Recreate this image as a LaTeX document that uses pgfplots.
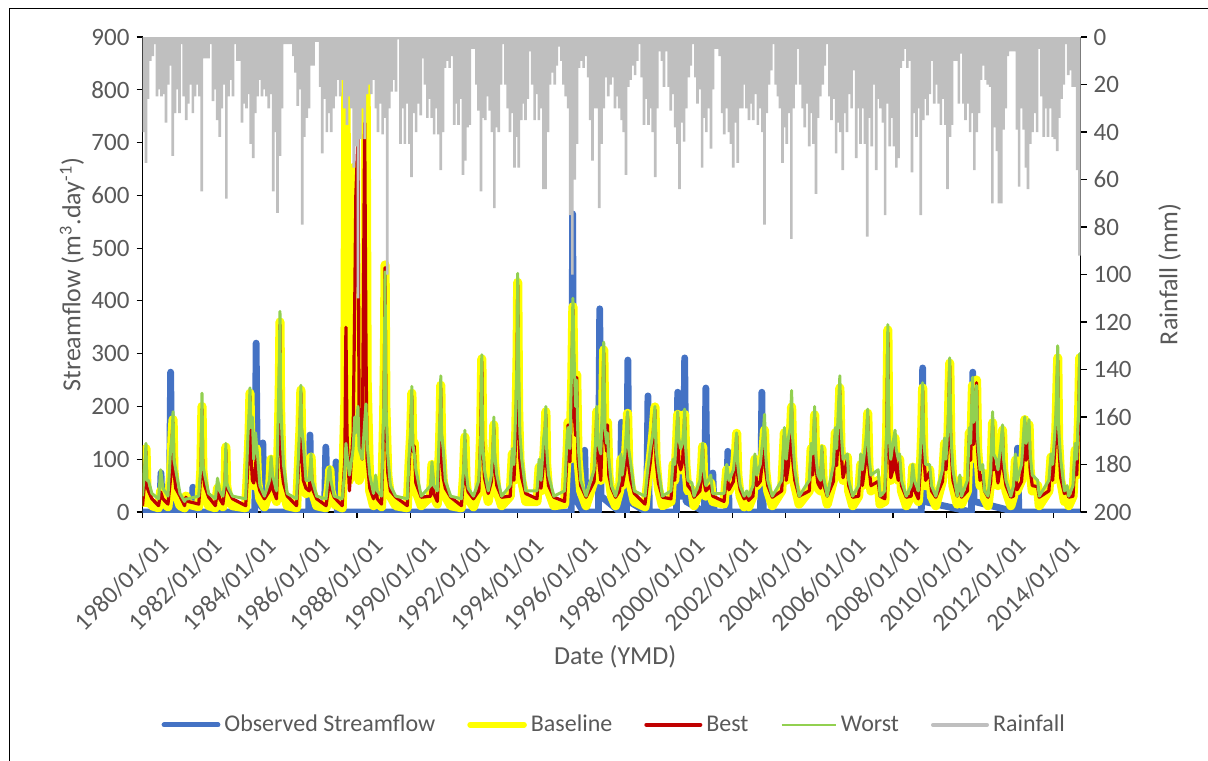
\documentclass[border=0pt]{standalone}
\usepackage{pgfplots}
\pgfplotsset{compat=1.18}
\usepackage{pgfplotstable}
\usepackage{fontspec}
\setmainfont{Carlito}
\definecolor{obs}{HTML}{4472C4}
\definecolor{base}{HTML}{FFFF00}
\definecolor{best}{HTML}{C00000}
\definecolor{worst}{HTML}{92D050}
\definecolor{rain}{HTML}{BFBFBF}
\definecolor{txt}{HTML}{595959}

\pgfplotstableread{
x b r w
1980.00 10 12 30
1980.06 48 45 70
1980.10 90 85 100
1980.13 120 115 130
1980.16 50 48 60
1980.22 28 40 60
1980.35 12 25 35
1980.60 8 12 25
1980.68 40 38 80
1980.76 20 25 45
1980.95 10 15 30
1981.05 70 65 120
1981.11 150 145 150
1981.14 175 170 190
1981.17 80 78 100
1981.24 36 45 80
1981.40 12 30 35
1981.57 8 12 20
1981.62 30 28 25
1981.70 15 20 25
1982.10 10 15 30
1982.18 80 75 90
1982.22 200 195 225
1982.25 80 78 90
1982.32 40 50 70
1982.47 12 28 35
1982.72 8 12 25
1982.80 45 43 64
1982.88 20 25 40
1983.00 10 15 30
1983.08 50 48 60
1983.11 123 118 130
1983.14 50 48 55
1983.21 28 40 45
1983.36 12 25 30
1983.85 8 12 25
1983.93 90 85 140
1983.98 150 145 190
1984.01 225 220 235
1984.04 120 115 160
1984.10 60 60 180
1984.15 50 55 100
1984.22 90 85 150
1984.25 120 115 130
1984.29 60 60 110
1984.38 25 40 50
1984.55 10 25 30
1984.74 40 40 60
1984.80 100 95 105
1984.85 45 45 70
1985.00 20 25 40
1985.07 140 135 200
1985.11 250 245 300
1985.13 360 355 380
1985.15 200 195 220
1985.20 80 80 150
1985.26 40 55 90
1985.40 12 30 35
1985.75 8 12 25
1985.83 100 95 120
1985.88 160 155 180
1985.91 231 226 240
1985.94 120 115 160
1986.00 60 60 130
1986.10 35 45 60
1986.22 40 40 60
1986.29 104 100 110
1986.33 40 45 60
1986.50 12 25 30
1986.85 8 12 25
1986.95 50 48 80
1986.99 80 76 85
1987.03 40 45 60
1987.15 15 28 30
1987.45 8 12 25
1987.55 200 100 80
1987.59 834 350 130
1987.63 300 150 110
1987.72 60 40 70
1987.86 200 150 120
1987.92 654 400 180
1987.96 250 600 150
1988.04 100 710 200
1988.08 60 200 120
1988.20 80 100 100
1988.29 300 737 170
1988.34 842 300 205
1988.38 250 100 130
1988.48 40 45 70
1988.62 12 25 35
1988.70 60 55 70
1988.76 20 25 40
1988.92 10 15 30
1989.00 180 175 190
1989.03 300 290 300
1989.05 468 463 455
1989.08 200 195 210
1989.15 70 75 110
1989.25 30 40 50
1989.45 12 28 30
1989.88 8 12 25
1989.95 93 90 110
1990.01 150 145 160
1990.05 225 220 238
1990.08 120 115 130
1990.14 131 125 110
1990.20 40 55 80
1990.40 12 28 30
1990.75 30 30 50
1990.80 90 86 95
1990.87 30 35 50
1991.00 15 20 40
1991.08 120 115 160
1991.11 180 175 190
1991.13 240 235 258
1991.16 120 115 150
1991.22 60 65 120
1991.30 30 45 60
1991.50 12 28 30
1991.90 8 12 25
1991.98 70 68 80
1992.03 142 137 155
1992.07 60 58 80
1992.15 25 38 45
1992.35 10 25 30
1992.55 40 40 60
1992.62 150 145 140
1992.66 290 285 298
1992.69 140 135 130
1992.76 60 65 80
1992.90 20 35 40
1993.02 60 58 70
1993.08 120 115 130
1993.11 165 160 180
1993.14 90 88 110
1993.22 40 50 70
1993.40 12 28 30
1993.72 30 30 50
1993.80 110 105 120
1993.86 60 60 90
1993.93 150 145 200
1993.98 300 295 300
1994.00 435 430 452
1994.03 200 195 300
1994.08 100 100 150
1994.15 60 65 100
1994.30 20 35 40
1994.72 20 25 40
1994.80 85 82 100
1994.87 40 45 60
1994.97 100 95 140
1995.02 150 145 160
1995.05 190 185 200
1995.08 90 88 120
1995.15 40 50 70
1995.35 12 28 30
1995.75 15 20 40
1995.85 120 115 150
1995.88 170 165 160
1995.95 100 95 120
1996.02 250 245 300
1996.06 389 384 405
1996.10 200 195 300
1996.16 150 145 200
1996.20 260 255 250
1996.25 100 100 130
1996.35 40 50 60
1996.55 12 28 30
1996.85 60 58 80
1996.92 140 135 150
1996.95 190 185 200
1997.00 110 108 130
1997.10 60 60 110
1997.17 180 175 220
1997.21 307 302 322
1997.25 150 145 160
1997.32 120 115 130
1997.35 170 165 150
1997.40 70 70 100
1997.50 30 45 50
1997.65 12 28 30
1997.80 40 40 60
1997.85 100 95 110
1997.90 50 50 70
1998.00 80 78 110
1998.06 140 135 160
1998.10 187 182 190
1998.14 90 88 120
1998.22 50 60 90
1998.35 20 35 40
1998.75 10 15 30
1998.85 60 58 80
1998.95 100 95 120
1999.05 150 145 150
1999.12 199 194 200
1999.16 100 98 120
1999.25 45 55 80
1999.40 12 28 30
1999.72 20 25 40
1999.80 90 86 100
1999.86 60 60 90
1999.93 130 125 150
1999.97 185 180 190
2000.01 100 98 140
2000.08 80 80 120
2000.15 100 95 130
2000.20 150 145 160
2000.23 185 180 195
2000.27 90 90 120
2000.35 40 50 60
2000.50 42 40 55
2000.58 12 28 30
2000.80 40 40 60
2000.87 90 86 110
2000.90 124 120 130
2000.94 60 60 80
2001.02 30 40 50
2001.20 55 50 70
2001.28 20 30 35
2001.70 15 20 35
2001.80 80 76 90
2001.88 40 42 60
2002.05 60 58 80
2002.13 110 105 120
2002.17 149 144 150
2002.21 70 70 90
2002.30 30 42 50
2002.45 10 25 30
2002.55 30 30 40
2002.62 10 22 30
2002.78 30 30 50
2002.85 100 95 110
2002.92 50 50 70
2003.05 60 58 90
2003.15 110 105 140
2003.21 155 150 185
2003.25 80 80 110
2003.33 40 50 60
2003.50 12 28 30
2003.85 40 40 60
2003.95 150 145 160
2004.02 60 60 100
2004.10 90 88 140
2004.17 140 135 160
2004.22 199 194 230
2004.26 100 98 140
2004.34 50 60 80
2004.50 15 30 30
2004.88 40 40 60
2004.95 120 115 130
2005.01 70 70 110
2005.05 140 135 160
2005.08 184 179 200
2005.12 90 88 110
2005.20 45 55 70
2005.30 40 45 60
2005.35 120 115 125
2005.40 50 55 70
2005.55 15 30 30
2005.78 60 58 90
2005.85 150 145 160
2005.90 90 88 120
2005.97 160 155 200
2006.02 235 230 258
2006.06 120 118 160
2006.14 60 65 100
2006.30 104 100 110
2006.35 40 50 60
2006.50 12 28 30
2006.72 30 30 50
2006.80 90 86 110
2006.86 50 50 80
2006.98 100 95 130
2007.03 150 145 160
2007.06 187 182 195
2007.10 90 88 110
2007.18 40 50 70
2007.45 60 58 80
2007.52 15 30 30
2007.70 20 25 40
2007.77 150 145 160
2007.81 345 340 355
2007.84 150 145 160
2007.92 60 65 100
2008.00 80 80 130
2008.08 140 135 155
2008.12 80 80 120
2008.20 60 60 100
2008.25 100 95 110
2008.32 40 50 60
2008.50 12 28 30
2008.68 30 30 50
2008.74 85 80 90
2008.80 40 42 60
2008.95 20 25 40
2009.04 100 95 130
2009.08 160 155 180
2009.11 235 230 245
2009.15 110 108 140
2009.22 50 60 90
2009.37 80 76 90
2009.44 30 40 50
2009.60 12 28 30
2009.85 60 58 80
2009.93 130 125 140
2009.98 80 80 100
2010.06 150 145 170
2010.12 282 277 292
2010.16 130 128 150
2010.24 50 60 80
2010.40 15 30 30
2010.50 60 58 70
2010.56 15 28 30
2010.78 40 40 60
2010.85 150 145 160
2010.90 100 98 130
2010.97 240 235 255
2011.01 130 128 170
2011.06 150 145 180
2011.12 250 245 240
2011.16 120 118 140
2011.25 50 60 80
2011.35 74 70 90
2011.42 25 40 40
2011.55 12 28 30
2011.65 60 58 80
2011.72 169 164 190
2011.76 80 80 110
2011.85 90 86 100
2011.92 50 55 80
2012.03 100 95 130
2012.09 155 150 165
2012.13 80 80 100
2012.22 40 50 60
2012.40 12 28 30
2012.50 30 30 50
2012.57 98 94 110
2012.63 40 42 60
2012.80 60 58 90
2012.88 120 115 150
2012.92 175 170 180
2012.97 100 98 130
2013.03 120 115 150
2013.08 165 160 175
2013.12 80 80 110
2013.20 40 50 70
2013.40 50 48 60
2013.46 12 28 30
2013.82 40 40 60
2013.90 104 100 110
2013.96 60 60 90
2014.08 150 145 180
2014.15 292 287 315
2014.18 140 138 160
2014.26 60 65 100
2014.40 20 35 40
2014.50 40 40 50
2014.56 12 28 30
2014.72 30 30 50
2014.80 117 112 130
2014.86 70 70 100
2014.93 180 175 200
2014.97 292 287 300
2015.00 150 145 170
}\flow

\pgfplotsset{
  tlab/.style={font=\fontsize{12.5}{15}\selectfont, text=txt},
}

\begin{document}
\begin{tikzpicture}
\useasboundingbox (-71.25pt,-124pt) rectangle (532.75pt,256pt);
\draw[line width=0.6pt] (-66.5pt,-140pt) -- (-66.5pt,251.75pt) -- (545pt,251.75pt);
\begin{axis}[
  scale only axis, width=469pt, height=237.5pt,
  xmin=1980, xmax=2015, ymin=0, ymax=900,
  axis x line*=bottom, axis y line*=left,
  axis line style={black, line width=0.6pt, -},
  tick style={black, line width=0.6pt},
  tick align=outside, major tick length=3pt,
  xtick={1980,1982,...,2014},
  xticklabels={1980/01/01,1982/01/01,1984/01/01,1986/01/01,1988/01/01,1990/01/01,1992/01/01,1994/01/01,1996/01/01,1998/01/01,2000/01/01,2002/01/01,2004/01/01,2006/01/01,2008/01/01,2010/01/01,2012/01/01,2014/01/01},
  ytick={0,100,...,900},
  /pgf/number format/assume math mode=true,
  tick label style={tlab},
  x tick label style={rotate=45, anchor=north east, xshift=3pt, yshift=-8pt},
  xlabel={Date (YMD)},
  xlabel style={at={(axis description cs:0.504,-0.305)}, anchor=center, font=\fontsize{13}{15}\selectfont, text=txt},
  ylabel={Streamflow (m\textsuperscript{3}.day\textsuperscript{-1})},
  ylabel style={at={(axis description cs:-0.075,0.5)}, anchor=center, font=\fontsize{13}{15}\selectfont, text=txt},
  line join=round,
]
\addplot[color=obs, line width=3.4pt, line join=round] coordinates {
(1980.00,0)(1980.64,0)(1980.69,74)(1980.74,0)(1981.00,0)(1981.05,265)(1981.10,30)(1981.20,0)(1981.65,0)(1981.70,28)(1981.75,0)(1981.84,0)(1981.88,47)(1981.93,0)(1984.19,0)(1984.24,320)(1984.29,50)(1984.44,10)(1984.49,131)(1984.54,0)(1986.20,0)(1986.25,146)(1986.30,0)(1986.79,0)(1986.84,123)(1986.90,20)(1987.17,20)(1987.22,95)(1987.27,0)(1996.00,0)(1996.05,565)(1996.10,30)(1996.45,0)(1996.50,117)(1996.55,0)(1997.01,0)(1997.06,385)(1997.11,30)(1997.82,0)(1997.87,170)(1997.92,0)(1998.06,0)(1998.11,288)(1998.16,20)(1998.81,0)(1998.86,220)(1998.91,0)(1999.92,0)(1999.97,227)(2000.02,30)(2000.18,30)(2000.23,292)(2000.28,20)(2000.97,0)(2001.02,235)(2001.07,0)(2001.23,0)(2001.28,74)(2001.33,0)(2001.79,0)(2001.84,115)(2001.89,0)(2002.50,0)(2002.55,29)(2002.60,0)(2003.06,0)(2003.11,227)(2003.16,0)(2009.06,0)(2009.11,273)(2009.16,20)(2010.93,0)(2010.98,265)(2011.03,20)(2012.60,0)(2012.65,121)(2012.70,0)(2015.00,0)
};
\addplot[color=base, line width=4.6pt, line join=round] table[x=x, y=b] {\flow};
\addplot[color=best, line width=1.6pt, line join=round] table[x=x, y=r] {\flow};
\addplot[color=worst, line width=1.5pt, line join=round] table[x=x, y=w] {\flow};
\end{axis}
\begin{axis}[
  scale only axis, width=469pt, height=237.5pt,
  xmin=1980, xmax=2015, ymin=0, ymax=200, y dir=reverse,
  axis x line=none, axis y line*=right,
  axis line style={black, line width=0.6pt, -},
  tick style={black, line width=0.6pt},
  tick align=outside, major tick length=3pt,
  ytick={0,20,...,200},
  /pgf/number format/assume math mode=true,
  tick label style={tlab},
  ylabel={Rainfall (mm)},
  ylabel style={at={(axis description cs:1.095,0.5)}, anchor=center, rotate=0, font=\fontsize{13}{15}\selectfont, text=txt},
  legend columns=5,
  legend style={at={(0.504,-0.448)}, anchor=center, draw=none, fill=none,
    font=\fontsize{12}{14}\selectfont, text=txt,
    /tikz/every even column/.append style={column sep=14pt}},
  legend image code/.code={\draw[#1] (0pt,0pt) -- (27pt,0pt);},
]
\addlegendimage{color=obs, line width=2.4pt, line cap=round}
\addlegendentry{Observed Streamflow}
\addlegendimage{color=base, line width=2.8pt, line cap=round}
\addlegendentry{Baseline}
\addlegendimage{color=best, line width=2pt, line cap=round}
\addlegendentry{Best}
\addlegendimage{color=worst, line width=1.2pt}
\addlegendentry{Worst}
\addlegendimage{color=rain, line width=2pt, line cap=round}
\addlegendentry{Rainfall}
\addplot[ybar, bar width=0.1, fill=rain, draw=none, forget plot] coordinates {
(1980.04,40)(1980.13,53)(1980.21,26)(1980.29,10)(1980.38,8)(1980.46,3)(1980.54,25)(1980.63,22)(1980.71,25)(1980.79,24)(1980.88,36)(1980.96,20)
(1981.04,12)(1981.13,50)(1981.21,32)(1981.29,22)(1981.38,32)(1981.46,3)(1981.54,25)(1981.63,35)(1981.71,28)(1981.79,20)(1981.88,32)(1981.96,25)
(1982.04,20)(1982.13,25)(1982.21,65)(1982.29,9)(1982.38,9)(1982.46,9)(1982.54,3)(1982.63,27)(1982.71,22)(1982.79,35)(1982.88,42)(1982.96,30)
(1983.04,20)(1983.13,68)(1983.21,25)(1983.29,18)(1983.38,25)(1983.46,3)(1983.54,10)(1983.63,10)(1983.71,36)(1983.79,28)(1983.88,30)(1983.96,24)
(1984.04,45)(1984.13,51)(1984.21,32)(1984.29,25)(1984.38,18)(1984.46,25)(1984.54,22)(1984.63,25)(1984.71,30)(1984.79,24)(1984.88,65)(1984.96,40)
(1985.04,74)(1985.13,50)(1985.21,30)(1985.29,3)(1985.38,3)(1985.46,3)(1985.54,3)(1985.63,8)(1985.71,15)(1985.79,29)(1985.88,22)(1985.96,79)
(1986.04,42)(1986.13,34)(1986.21,30)(1986.29,12)(1986.38,12)(1986.46,2)(1986.54,2)(1986.63,21)(1986.71,49)(1986.79,26)(1986.88,40)(1986.96,32)
(1987.04,40)(1987.13,30)(1987.21,25)(1987.29,18)(1987.38,25)(1987.46,18)(1987.54,30)(1987.63,37)(1987.71,25)(1987.79,30)(1987.88,55)(1987.96,46)
(1988.04,110)(1988.13,43)(1988.21,30)(1988.29,43)(1988.38,24)(1988.46,20)(1988.54,24)(1988.63,18)(1988.71,30)(1988.79,40)(1988.88,28)(1988.96,41)
(1989.04,34)(1989.13,100)(1989.21,30)(1989.29,23)(1989.38,18)(1989.46,23)(1989.54,1)(1989.63,45)(1989.71,30)(1989.79,45)(1989.88,28)(1989.96,45)
(1990.04,59)(1990.13,32)(1990.21,40)(1990.29,28)(1990.38,33)(1990.46,9)(1990.54,20)(1990.63,34)(1990.71,26)(1990.79,34)(1990.88,41)(1990.96,30)
(1991.04,41)(1991.13,56)(1991.21,40)(1991.29,13)(1991.38,10)(1991.46,13)(1991.54,8)(1991.63,37)(1991.71,28)(1991.79,37)(1991.88,26)(1991.96,58)
(1992.04,52)(1992.13,38)(1992.21,37)(1992.29,5)(1992.38,5)(1992.46,20)(1992.54,31)(1992.63,65)(1992.71,34)(1992.79,35)(1992.88,25)(1992.96,31)
(1993.04,40)(1993.13,72)(1993.21,38)(1993.29,40)(1993.38,20)(1993.46,3)(1993.54,20)(1993.63,30)(1993.71,40)(1993.79,32)(1993.88,55)(1993.96,42)
(1994.04,55)(1994.13,35)(1994.21,28)(1994.29,35)(1994.38,26)(1994.46,6)(1994.54,20)(1994.63,35)(1994.71,24)(1994.79,35)(1994.88,30)(1994.96,64)
(1995.04,64)(1995.13,40)(1995.21,20)(1995.29,15)(1995.38,20)(1995.46,12)(1995.54,4)(1995.63,10)(1995.71,20)(1995.79,25)(1995.88,30)(1995.96,75)
(1996.04,100)(1996.13,60)(1996.21,45)(1996.29,13)(1996.38,10)(1996.46,13)(1996.54,8)(1996.63,17)(1996.71,35)(1996.79,52)(1996.88,30)(1996.96,30)
(1997.04,72)(1997.13,45)(1997.21,30)(1997.29,17)(1997.38,25)(1997.46,20)(1997.54,17)(1997.63,30)(1997.71,25)(1997.79,30)(1997.88,35)(1997.96,40)
(1998.04,58)(1998.13,21)(1998.21,18)(1998.29,12)(1998.38,16)(1998.46,10)(1998.54,3)(1998.63,17)(1998.71,37)(1998.79,26)(1998.88,37)(1998.96,30)
(1999.04,40)(1999.13,59)(1999.21,30)(1999.29,6)(1999.38,10)(1999.46,21)(1999.54,6)(1999.63,21)(1999.71,31)(1999.79,24)(1999.88,38)(1999.96,45)
(2000.04,64)(2000.13,36)(2000.21,44)(2000.29,30)(2000.38,17)(2000.46,12)(2000.54,3)(2000.63,17)(2000.71,28)(2000.79,22)(2000.88,55)(2000.96,34)
(2001.04,40)(2001.13,30)(2001.21,47)(2001.29,22)(2001.38,5)(2001.46,5)(2001.54,8)(2001.63,32)(2001.71,41)(2001.79,30)(2001.88,40)(2001.96,45)
(2002.04,55)(2002.13,36)(2002.21,53)(2002.29,30)(2002.38,30)(2002.46,20)(2002.54,30)(2002.63,35)(2002.71,28)(2002.79,35)(2002.88,24)(2002.96,37)
(2003.04,30)(2003.13,40)(2003.21,79)(2003.29,32)(2003.38,20)(2003.46,14)(2003.54,3)(2003.63,20)(2003.71,25)(2003.79,30)(2003.88,53)(2003.96,38)
(2004.04,45)(2004.13,32)(2004.21,85)(2004.29,30)(2004.38,20)(2004.46,5)(2004.54,20)(2004.63,30)(2004.71,38)(2004.79,28)(2004.88,46)(2004.96,32)
(2005.04,45)(2005.13,66)(2005.21,34)(2005.29,25)(2005.38,20)(2005.46,12)(2005.54,3)(2005.63,25)(2005.71,35)(2005.79,26)(2005.88,49)(2005.96,36)
(2006.04,40)(2006.13,56)(2006.21,32)(2006.29,40)(2006.38,24)(2006.46,30)(2006.54,14)(2006.63,51)(2006.71,30)(2006.79,45)(2006.88,30)(2006.96,45)
(2007.04,84)(2007.13,34)(2007.21,46)(2007.29,20)(2007.38,56)(2007.46,26)(2007.54,30)(2007.63,36)(2007.71,75)(2007.79,28)(2007.88,46)(2007.96,34)
(2008.04,46)(2008.13,55)(2008.21,51)(2008.29,13)(2008.38,10)(2008.46,5)(2008.54,13)(2008.63,10)(2008.71,57)(2008.79,32)(2008.88,42)(2008.96,30)
(2009.04,75)(2009.13,35)(2009.21,26)(2009.29,33)(2009.38,24)(2009.46,10)(2009.54,28)(2009.63,20)(2009.71,28)(2009.79,37)(2009.88,26)(2009.96,37)
(2010.04,64)(2010.13,42)(2010.21,37)(2010.29,10)(2010.38,10)(2010.46,28)(2010.54,7)(2010.63,28)(2010.71,35)(2010.79,28)(2010.88,40)(2010.96,32)
(2011.04,56)(2011.13,40)(2011.21,32)(2011.29,18)(2011.38,12)(2011.46,18)(2011.54,20)(2011.63,21)(2011.71,70)(2011.79,38)(2011.88,48)(2011.96,70)
(2012.04,70)(2012.13,39)(2012.21,30)(2012.29,8)(2012.38,6)(2012.46,6)(2012.54,6)(2012.63,39)(2012.71,63)(2012.79,30)(2012.88,39)(2012.96,55)
(2013.04,64)(2013.13,45)(2013.21,40)(2013.29,32)(2013.38,40)(2013.46,5)(2013.54,25)(2013.63,42)(2013.71,30)(2013.79,42)(2013.88,30)(2013.96,42)
(2014.04,43)(2014.13,48)(2014.21,34)(2014.29,26)(2014.38,20)(2014.46,3)(2014.54,16)(2014.63,14)(2014.71,21)(2014.79,21)(2014.88,56)(2014.96,92)
};
\end{axis}
\end{tikzpicture}
\end{document}
